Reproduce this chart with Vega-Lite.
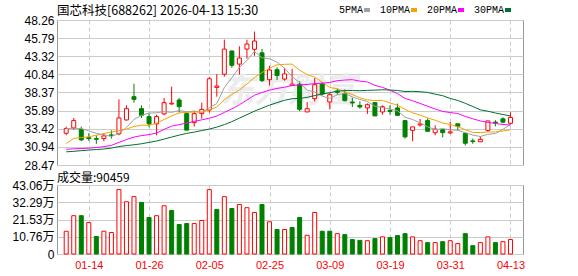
{
  "$schema": "https://vega.github.io/schema/vega-lite/v6.json",
  "padding": {"left": 11, "top": 4, "right": 5, "bottom": 5},
  "background": "white",
  "bounds": "flush",
  "spacing": 20,
  "config": {
    "view": {"stroke": "#999999", "strokeWidth": 1},
    "axis": {"labelFont": "Liberation Sans", "labelFontSize": 12, "labelColor": "#000000", "ticks": false, "domain": false, "title": null, "gridColor": "#cccccc", "gridWidth": 1, "labelPadding": 3, "tickCount": 30}
  },
  "datasets": {
    "k": [
      {"i":1,"d":"01-09","o":32.80,"h":33.71,"l":32.52,"c":33.44,"v":14.2,"vd":"up","5PMA":33.44,"10PMA":31.40,"20PMA":30.62,"30PMA":30.27},
      {"i":2,"d":"01-12","o":33.53,"h":34.89,"l":33.26,"c":34.53,"v":23.9,"vd":"up","5PMA":33.44,"10PMA":32.10,"20PMA":30.67,"30PMA":30.33},
      {"i":3,"d":"01-13","o":33.34,"h":33.71,"l":31.71,"c":31.90,"v":23.9,"vd":"down","5PMA":33.44,"10PMA":32.21,"20PMA":30.72,"30PMA":30.43},
      {"i":4,"d":"01-14","o":32.21,"h":32.80,"l":31.76,"c":32.08,"v":19.6,"vd":"up","5PMA":33.14,"10PMA":32.32,"20PMA":30.77,"30PMA":30.51},
      {"i":5,"d":"01-15","o":32.08,"h":32.52,"l":31.36,"c":31.98,"v":10.9,"vd":"down","5PMA":32.79,"10PMA":32.54,"20PMA":30.85,"30PMA":30.58},
      {"i":6,"d":"01-16","o":32.08,"h":32.80,"l":31.71,"c":32.44,"v":14.2,"vd":"up","5PMA":32.59,"10PMA":32.76,"20PMA":30.97,"30PMA":30.65},
      {"i":7,"d":"01-19","o":32.58,"h":33.20,"l":32.08,"c":32.48,"v":13.4,"vd":"up","5PMA":32.37,"10PMA":32.97,"20PMA":31.15,"30PMA":30.78},
      {"i":8,"d":"01-20","o":32.72,"h":37.43,"l":32.52,"c":34.89,"v":40.2,"vd":"up","5PMA":32.77,"10PMA":33.17,"20PMA":31.56,"30PMA":30.99},
      {"i":9,"d":"01-21","o":34.62,"h":36.61,"l":34.53,"c":36.16,"v":32.6,"vd":"up","5PMA":33.59,"10PMA":33.37,"20PMA":31.94,"30PMA":31.12},
      {"i":10,"d":"01-22","o":37.79,"h":39.56,"l":36.98,"c":37.43,"v":35.8,"vd":"up","5PMA":34.68,"10PMA":33.73,"20PMA":32.28,"30PMA":31.23},
      {"i":11,"d":"01-23","o":36.16,"h":36.61,"l":34.89,"c":35.25,"v":32.2,"vd":"down","5PMA":35.24,"10PMA":33.91,"20PMA":32.48,"30PMA":31.37},
      {"i":12,"d":"01-26","o":35.07,"h":35.52,"l":33.61,"c":34.08,"v":22.8,"vd":"down","5PMA":35.56,"10PMA":33.87,"20PMA":32.62,"30PMA":31.56},
      {"i":13,"d":"01-27","o":34.08,"h":35.34,"l":32.52,"c":35.07,"v":23.9,"vd":"up","5PMA":35.60,"10PMA":34.19,"20PMA":32.83,"30PMA":31.74},
      {"i":14,"d":"01-28","o":35.44,"h":37.62,"l":35.25,"c":36.98,"v":30.1,"vd":"up","5PMA":35.76,"10PMA":34.68,"20PMA":33.33,"30PMA":32.01},
      {"i":15,"d":"01-29","o":36.80,"h":39.15,"l":36.70,"c":36.90,"v":27.2,"vd":"down","5PMA":35.65,"10PMA":35.17,"20PMA":33.78,"30PMA":32.28},
      {"i":16,"d":"01-30","o":37.34,"h":37.62,"l":35.62,"c":36.43,"v":18.4,"vd":"down","5PMA":35.91,"10PMA":35.58,"20PMA":33.98,"30PMA":32.55},
      {"i":17,"d":"02-02","o":35.48,"h":35.71,"l":33.23,"c":33.23,"v":19.0,"vd":"down","5PMA":35.74,"10PMA":35.65,"20PMA":34.19,"30PMA":32.78},
      {"i":18,"d":"02-03","o":34.25,"h":35.89,"l":33.71,"c":35.48,"v":19.0,"vd":"up","5PMA":35.82,"10PMA":35.71,"20PMA":34.42,"30PMA":32.96},
      {"i":19,"d":"02-04","o":35.48,"h":36.98,"l":34.80,"c":36.06,"v":20.9,"vd":"up","5PMA":35.64,"10PMA":35.70,"20PMA":34.63,"30PMA":33.17},
      {"i":20,"d":"02-05","o":35.96,"h":40.47,"l":35.62,"c":40.24,"v":40.2,"vd":"up","5PMA":36.29,"10PMA":35.98,"20PMA":34.86,"30PMA":33.37},
      {"i":21,"d":"02-06","o":39.06,"h":40.88,"l":37.79,"c":39.25,"v":27.8,"vd":"down","5PMA":36.85,"10PMA":36.38,"20PMA":35.15,"30PMA":33.64},
      {"i":22,"d":"02-09","o":40.86,"h":45.59,"l":40.52,"c":44.29,"v":35.8,"vd":"up","5PMA":39.06,"10PMA":37.40,"20PMA":35.64,"30PMA":33.98},
      {"i":23,"d":"02-10","o":44.03,"h":44.10,"l":41.74,"c":42.08,"v":28.4,"vd":"down","5PMA":40.38,"10PMA":38.10,"20PMA":36.14,"30PMA":34.39},
      {"i":24,"d":"02-11","o":42.24,"h":44.67,"l":40.83,"c":43.07,"v":30.9,"vd":"up","5PMA":41.79,"10PMA":38.71,"20PMA":36.69,"30PMA":34.87},
      {"i":25,"d":"02-12","o":44.29,"h":45.58,"l":42.97,"c":44.98,"v":28.9,"vd":"up","5PMA":42.73,"10PMA":39.51,"20PMA":37.34,"30PMA":35.34},
      {"i":26,"d":"02-13","o":44.26,"h":46.68,"l":43.37,"c":45.39,"v":25.9,"vd":"up","5PMA":43.96,"10PMA":40.41,"20PMA":37.99,"30PMA":35.82},
      {"i":27,"d":"02-24","o":43.78,"h":44.33,"l":39.79,"c":39.99,"v":30.9,"vd":"down","5PMA":43.10,"10PMA":41.08,"20PMA":38.37,"30PMA":36.23},
      {"i":28,"d":"02-25","o":40.11,"h":42.01,"l":39.33,"c":41.44,"v":20.1,"vd":"up","5PMA":42.97,"10PMA":41.68,"20PMA":38.69,"30PMA":36.64},
      {"i":29,"d":"02-26","o":41.47,"h":41.81,"l":40.07,"c":40.69,"v":15.3,"vd":"down","5PMA":42.50,"10PMA":42.14,"20PMA":38.92,"30PMA":36.98},
      {"i":30,"d":"02-27","o":40.20,"h":41.74,"l":39.97,"c":40.90,"v":15.3,"vd":"up","5PMA":41.68,"10PMA":42.21,"20PMA":39.09,"30PMA":37.31},
      {"i":31,"d":"03-02","o":39.33,"h":41.60,"l":39.33,"c":39.52,"v":16.5,"vd":"down","5PMA":40.51,"10PMA":42.24,"20PMA":39.31,"30PMA":37.51},
      {"i":32,"d":"03-03","o":39.50,"h":39.90,"l":35.82,"c":36.07,"v":22.8,"vd":"down","5PMA":39.72,"10PMA":41.41,"20PMA":39.41,"30PMA":37.56},
      {"i":33,"d":"03-04","o":35.71,"h":37.07,"l":35.71,"c":36.16,"v":11.7,"vd":"up","5PMA":38.67,"10PMA":40.82,"20PMA":39.46,"30PMA":37.70},
      {"i":34,"d":"03-05","o":37.52,"h":40.34,"l":37.15,"c":39.43,"v":25.9,"vd":"up","5PMA":38.42,"10PMA":40.46,"20PMA":39.58,"30PMA":37.95},
      {"i":35,"d":"03-06","o":39.52,"h":39.79,"l":37.97,"c":38.16,"v":14.2,"vd":"down","5PMA":37.87,"10PMA":39.78,"20PMA":39.64,"30PMA":38.15},
      {"i":36,"d":"03-09","o":37.07,"h":38.34,"l":36.06,"c":38.07,"v":14.2,"vd":"down","5PMA":37.58,"10PMA":39.04,"20PMA":39.73,"30PMA":38.34},
      {"i":37,"d":"03-10","o":38.57,"h":38.88,"l":38.07,"c":38.38,"v":12.7,"vd":"up","5PMA":38.04,"10PMA":38.88,"20PMA":39.98,"30PMA":38.54},
      {"i":38,"d":"03-11","o":38.24,"h":38.79,"l":37.15,"c":37.25,"v":12.1,"vd":"down","5PMA":38.26,"10PMA":38.46,"20PMA":40.07,"30PMA":38.62},
      {"i":39,"d":"03-12","o":37.07,"h":37.62,"l":36.39,"c":36.94,"v":9.0,"vd":"down","5PMA":37.76,"10PMA":38.09,"20PMA":40.12,"30PMA":38.64},
      {"i":40,"d":"03-13","o":36.61,"h":37.15,"l":36.16,"c":36.39,"v":8.5,"vd":"down","5PMA":37.41,"10PMA":37.64,"20PMA":39.92,"30PMA":38.61},
      {"i":41,"d":"03-16","o":36.26,"h":36.88,"l":35.44,"c":36.70,"v":8.3,"vd":"up","5PMA":37.13,"10PMA":37.36,"20PMA":39.80,"30PMA":38.66},
      {"i":42,"d":"03-17","o":36.98,"h":37.05,"l":35.17,"c":35.17,"v":9.6,"vd":"down","5PMA":36.49,"10PMA":37.27,"20PMA":39.34,"30PMA":38.69},
      {"i":43,"d":"03-18","o":35.71,"h":36.61,"l":35.34,"c":36.43,"v":10.7,"vd":"up","5PMA":36.33,"10PMA":37.29,"20PMA":39.06,"30PMA":38.74},
      {"i":44,"d":"03-19","o":35.93,"h":36.61,"l":35.34,"c":35.79,"v":10.2,"vd":"down","5PMA":36.10,"10PMA":36.93,"20PMA":38.69,"30PMA":38.70},
      {"i":45,"d":"03-20","o":36.26,"h":36.84,"l":35.17,"c":35.25,"v":11.5,"vd":"down","5PMA":35.87,"10PMA":36.64,"20PMA":38.21,"30PMA":38.64},
      {"i":46,"d":"03-23","o":34.53,"h":34.53,"l":32.08,"c":32.31,"v":12.7,"vd":"down","5PMA":34.99,"10PMA":36.06,"20PMA":37.55,"30PMA":38.50},
      {"i":47,"d":"03-24","o":33.20,"h":33.67,"l":31.71,"c":33.67,"v":10.7,"vd":"up","5PMA":34.69,"10PMA":35.59,"20PMA":37.24,"30PMA":38.52},
      {"i":48,"d":"03-25","o":33.94,"h":34.76,"l":33.71,"c":34.08,"v":8.3,"vd":"up","5PMA":34.22,"10PMA":35.27,"20PMA":36.87,"30PMA":38.47},
      {"i":49,"d":"03-26","o":34.53,"h":34.84,"l":33.07,"c":33.07,"v":7.1,"vd":"down","5PMA":33.68,"10PMA":34.89,"20PMA":36.49,"30PMA":38.37},
      {"i":50,"d":"03-27","o":32.87,"h":33.89,"l":32.52,"c":33.37,"v":7.1,"vd":"up","5PMA":33.30,"10PMA":34.58,"20PMA":36.11,"30PMA":38.14},
      {"i":51,"d":"03-30","o":33.34,"h":33.34,"l":32.24,"c":32.89,"v":7.7,"vd":"down","5PMA":33.42,"10PMA":34.20,"20PMA":35.78,"30PMA":37.93},
      {"i":52,"d":"03-31","o":32.85,"h":34.35,"l":32.69,"c":32.99,"v":8.3,"vd":"up","5PMA":33.28,"10PMA":33.99,"20PMA":35.63,"30PMA":37.55},
      {"i":53,"d":"04-01","o":34.09,"h":34.09,"l":33.19,"c":33.74,"v":6.5,"vd":"up","5PMA":33.21,"10PMA":33.72,"20PMA":35.50,"30PMA":37.28},
      {"i":54,"d":"04-02","o":32.80,"h":32.80,"l":31.12,"c":31.44,"v":12.7,"vd":"down","5PMA":32.89,"10PMA":33.28,"20PMA":35.10,"30PMA":36.89},
      {"i":55,"d":"04-03","o":31.76,"h":32.08,"l":31.36,"c":31.67,"v":5.2,"vd":"down","5PMA":32.55,"10PMA":32.92,"20PMA":34.78,"30PMA":36.45},
      {"i":56,"d":"04-07","o":31.64,"h":32.39,"l":31.64,"c":31.97,"v":7.1,"vd":"up","5PMA":32.36,"10PMA":32.89,"20PMA":34.48,"30PMA":36.00},
      {"i":57,"d":"04-08","o":33.19,"h":34.49,"l":32.99,"c":34.49,"v":10.7,"vd":"up","5PMA":32.66,"10PMA":32.97,"20PMA":34.28,"30PMA":35.81},
      {"i":58,"d":"04-09","o":34.32,"h":34.59,"l":33.75,"c":34.23,"v":7.1,"vd":"down","5PMA":32.76,"10PMA":32.99,"20PMA":34.13,"30PMA":35.57},
      {"i":59,"d":"04-10","o":34.77,"h":34.98,"l":34.16,"c":34.32,"v":7.7,"vd":"up","5PMA":33.34,"10PMA":33.11,"20PMA":34.00,"30PMA":35.36},
      {"i":60,"d":"04-13","o":34.16,"h":35.66,"l":33.98,"c":34.96,"v":9.05,"vd":"up","5PMA":33.99,"10PMA":33.27,"20PMA":33.93,"30PMA":35.16}
    ]
  },
  "vconcat": [
    {
      "width": 466,
      "height": 145,
      "data": {"name": "k"},
      "title": {"text": "国芯科技[688262] 2026-04-13 15:30", "anchor": "start", "frame": "group", "font": "Noto Sans CJK SC", "fontSize": 12.5, "fontWeight": "normal", "color": "#000000", "offset": -3},
      "encoding": {
        "x": {"field": "i", "type": "quantitative", "scale": {"domain": [0.44, 61.0], "nice": false, "zero": false},
              "axis": {"values": [4, 12, 20, 28, 36, 44, 52, 60], "labels": false, "grid": true, "gridDash": [4, 3], "orient": "bottom"}}
      },
      "layer": [
        {
          "data": {"values": [{"t": "东方财富", "i": 30.5, "p": 38.4}]},
          "mark": {"type": "text", "font": "Noto Sans CJK SC", "fontSize": 34, "fontWeight": "bold", "fontStyle": "italic", "color": "#ececec"},
          "encoding": {
            "y": {"field": "p", "type": "quantitative", "scale": {"domain": [28.47, 48.26], "nice": false, "zero": false},
                  "axis": {"values": [28.47, 30.94, 33.42, 35.89, 38.37, 40.84, 43.32, 45.79, 48.26], "format": ".2f", "grid": true, "labelOverlap": false, "labelBound": false, "tickCount": 30}},
            "text": {"field": "t"}
          }
        },
        {
          "mark": {"type": "rule", "strokeWidth": 1},
          "encoding": {
            "y": {"field": "l", "type": "quantitative", "scale": {"domain": [28.47, 48.26], "nice": false, "zero": false}},
            "y2": {"field": "h"},
            "color": {"condition": {"test": "datum.c >= datum.o", "value": "#ff0000"}, "value": "#008000"}
          }
        },
        {
          "transform": [{"filter": "datum.c >= datum.o"}],
          "mark": {"type": "bar", "orient": "vertical", "width": 4, "fill": "#ffffff", "stroke": "#ff0000", "strokeWidth": 1},
          "encoding": {
            "y": {"field": "o", "type": "quantitative", "scale": {"domain": [28.47, 48.26], "nice": false, "zero": false}},
            "y2": {"field": "c"}
          }
        },
        {
          "transform": [{"filter": "datum.c < datum.o"}],
          "mark": {"type": "bar", "orient": "vertical", "width": 4, "fill": "#008000", "stroke": "#008000", "strokeWidth": 1},
          "encoding": {
            "y": {"field": "o", "type": "quantitative", "scale": {"domain": [28.47, 48.26], "nice": false, "zero": false}},
            "y2": {"field": "c"}
          }
        },
        {
          "transform": [{"fold": ["5PMA", "10PMA", "20PMA", "30PMA"], "as": ["ma", "val"]}],
          "mark": {"type": "line", "strokeWidth": 1},
          "encoding": {
            "y": {"field": "val", "type": "quantitative", "scale": {"domain": [28.47, 48.26], "nice": false, "zero": false}},
            "color": {"field": "ma", "type": "nominal",
                      "scale": {"domain": ["5PMA", "10PMA", "20PMA", "30PMA"], "range": ["#a0a0a0", "#f5a300", "#ff00ff", "#007030"]},
                      "legend": {"orient": "none", "legendX": 305, "legendY": -15, "direction": "horizontal", "title": null,
                                 "labelFont": "Liberation Mono", "labelFontSize": 10, "labelColor": "#000000",
                                 "symbolType": "stroke", "symbolStrokeWidth": 4, "symbolSize": 36,
                                 "labelAlign": "right", "labelOffset": -9, "columnPadding": 1, "padding": 0}}
          }
        }
      ]
    },
    {
      "width": 466,
      "height": 69,
      "data": {"name": "k"},
      "title": {"text": "成交量:90459", "anchor": "start", "frame": "group", "font": "Noto Sans CJK SC", "fontSize": 12, "fontWeight": "normal", "color": "#000000", "offset": -6},
      "encoding": {
        "x": {"field": "i", "type": "quantitative", "scale": {"domain": [0.44, 61.0], "nice": false, "zero": false},
              "axis": {"values": [4, 12, 20, 28, 36, 44, 52, 60], "grid": true, "gridDash": [4, 3], "orient": "bottom",
                       "labelColor": "#ff0000", "labelFont": "Liberation Sans", "labelFontSize": 11, "labelPadding": 5,
                       "labelExpr": "datum.value == 4 ? '01-14' : datum.value == 12 ? '01-26' : datum.value == 20 ? '02-05' : datum.value == 28 ? '02-25' : datum.value == 36 ? '03-09' : datum.value == 44 ? '03-19' : datum.value == 52 ? '03-31' : '04-13'"}}
      },
      "layer": [
        {
          "transform": [{"filter": "datum.vd == 'up'"}],
          "mark": {"type": "bar", "orient": "vertical", "width": 4, "fill": "#ffffff", "stroke": "#ff0000", "strokeWidth": 1},
          "encoding": {
            "y": {"field": "v", "type": "quantitative", "scale": {"domain": [0, 43.06], "nice": false, "zero": true},
                  "axis": {"values": [0, 10.76, 21.53, 32.29, 43.06], "grid": true, "labelOverlap": false, "labelBound": false, "tickCount": 30, "labelFont": "Liberation Sans, Noto Sans CJK SC",
                           "labelExpr": "datum.value == 0 ? '0' : format(datum.value, '.2f') + '万'"}}
          }
        },
        {
          "transform": [{"filter": "datum.vd == 'down'"}],
          "mark": {"type": "bar", "orient": "vertical", "width": 4, "fill": "#008000", "stroke": "#008000", "strokeWidth": 1},
          "encoding": {
            "y": {"field": "v", "type": "quantitative", "scale": {"domain": [0, 43.06], "nice": false, "zero": true}}
          }
        }
      ]
    }
  ]
}
